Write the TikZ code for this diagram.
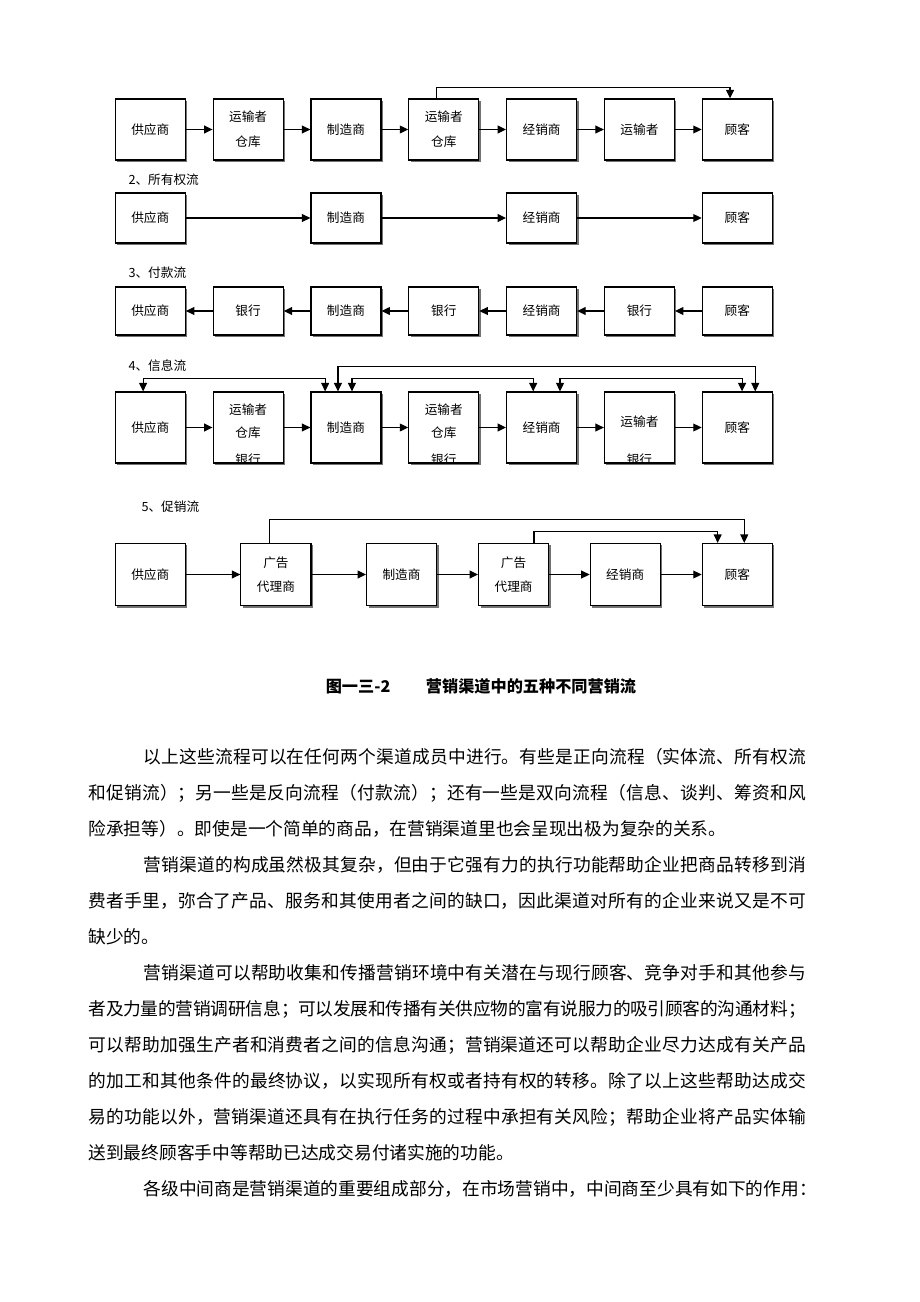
\documentclass[tikz,border=0pt]{standalone}
\usepackage{fontspec}
\newfontfamily\cjk{Noto Sans CJK SC}
\usetikzlibrary{arrows.meta,shadows}
\XeTeXlinebreaklocale "zh"
\XeTeXlinebreakskip=0pt plus 1pt minus 0.3pt
\setlength{\parskip}{0pt}
\tolerance=10000

\begin{document}
\begin{tikzpicture}[x=0.025cm,y=-0.025cm,->,>={Triangle[length=6pt,width=5.6pt]},
                    line width=0.8pt,node distance=2.445cm]
  \tikzstyle{firm}=[rectangle,draw=black,fill=white,minimum width=1.75cm,inner sep=1pt,
                    align=center,font=\cjk\fontsize{9pt}{17.5pt}\selectfont,
                    drop shadow={shadow xshift=0.05cm,shadow yshift=-0.05cm,fill=black!55,opacity=1}]
  \tikzstyle{flowname}=[anchor=west,inner sep=0pt,font=\cjk\fontsize{9pt}{11pt}\selectfont]
  \tikzstyle{inbox}=[inner sep=0pt,font=\cjk\fontsize{9pt}{11pt}\selectfont]

  \useasboundingbox (0,0) rectangle (920,1302);

  % 1
  \begin{scope}[firm/.append style={minimum height=1.525cm}]
  \node[firm] (s1) at (150.3,129.5)     {供应商};
  \node[firm] (w1a)  [right of=s1]      {运输者\\仓库};
  \node[firm] (m1)   [right of=w1a]     {制造商};
  \node[firm] (w1b)  [right of=m1]      {运输者\\仓库};
  \node[firm] (d1)   [right of=w1b]     {经销商};
  \node[firm] (t1)   [right of=d1]      {运输者};
  \node[firm] (c1)   [right of=t1]      {顾客};
  \end{scope}
  \path (s1) edge (w1a) (w1a) edge (m1) (m1) edge (w1b) (w1b) edge (d1)
        (d1) edge (t1) (t1) edge (c1);
  \draw ([xshift=-0.19cm]w1b.north) -- ++(0,-11) -| ([xshift=-0.18cm]c1.north);

  % 2
  \node[flowname] (n2) at (128,180) {2、所有权流};
  \begin{scope}[firm/.append style={minimum height=1.25cm},node distance=4.89cm]
  \node[firm] (s2) at (150.3,218)       {供应商};
  \node[firm] (m2)   [right of=s2]      {制造商};
  \node[firm] (d2)   [right of=m2]      {经销商};
  \node[firm] (c2)   [right of=d2]      {顾客};
  \end{scope}
  \path (s2) edge (m2) (m2) edge (d2) (d2) edge (c2);

  % 3
  \node[flowname] (n3) at (128,273) {3、付款流};
  \begin{scope}[firm/.append style={minimum height=1.2cm}]
  \node[firm] (s3) at (150.3,311)       {供应商};
  \node[firm] (k3a)  [right of=s3]      {银行};
  \node[firm] (m3)   [right of=k3a]     {制造商};
  \node[firm] (k3b)  [right of=m3]      {银行};
  \node[firm] (d3)   [right of=k3b]     {经销商};
  \node[firm] (k3c)  [right of=d3]      {银行};
  \node[firm] (c3)   [right of=k3c]     {顾客};
  \end{scope}
  \path (c3) edge (k3c) (k3c) edge (d3) (d3) edge (k3b) (k3b) edge (m3)
        (m3) edge (k3a) (k3a) edge (s3);

  % 4
  \node[flowname] (n4) at (128,366) {4、信息流};
  \begin{scope}[firm/.append style={minimum height=1.775cm}]
  \node[firm] (s4) at (150.3,427.5)     {供应商};
  \node[firm] (w4a)  [right of=s4]      {};
  \node[firm] (m4)   [right of=w4a]     {制造商};
  \node[firm] (w4b)  [right of=m4]      {};
  \node[firm] (d4)   [right of=w4b]     {经销商};
  \node[firm] (t4)   [right of=d4]      {};
  \node[firm] (c4)   [right of=t4]      {顾客};
  \end{scope}
  \foreach \w in {w4a,w4b}{
    \begin{scope}
      \clip (\w.south west) rectangle (\w.north east);
      \node[inbox] (\w-1) at ([yshift=0.4375cm]\w)  {运输者};
      \node[inbox] (\w-2) at ([yshift=-0.1375cm]\w) {仓库};
      \node[inbox] (\w-3) at ([yshift=-0.8cm]\w)    {银行};
    \end{scope}
  }
  \begin{scope}
    \clip (t4.south west) rectangle (t4.north east);
    \node[inbox] (t4-1) at ([yshift=0.1375cm]t4) {运输者};
    \node[inbox] (t4-3) at ([yshift=-0.8cm]t4)   {银行};
  \end{scope}
  \path (s4) edge (w4a) (w4a) edge (m4) (m4) edge (w4b) (w4b) edge (d4)
        (d4) edge (t4) (t4) edge (c4);
  \draw[<->] ([xshift=-0.18cm]s4.north) -- ++(0,-13) -| ([xshift=-0.52cm]m4.north);
  \draw[<->] ([xshift=-0.2cm]m4.north)  -- ++(0,-25) -| ([xshift=0.45cm]c4.north);
  \draw[<->] ([xshift=0.15cm]m4.north)  -- ++(0,-13) -| ([xshift=-0.21cm]d4.north);
  \draw[<->] ([xshift=0.46cm]d4.north)  -- ++(0,-13) -| ([xshift=0.12cm]c4.north);

  % 5
  \node[flowname] (n5) at (141,507) {5、促销流};
  \begin{scope}[firm/.append style={minimum height=1.55cm}]
  \node[firm] (s5) at (150.3,574.5)                     {供应商};
  \node[firm] (a5)  [right of=s5,node distance=3.14cm]  {广告\\代理商};
  \node[firm] (m5)  [right of=a5,node distance=3.14cm]  {制造商};
  \node[firm] (b5)  [right of=m5,node distance=2.8cm]   {广告\\代理商};
  \node[firm] (d5)  [right of=b5,node distance=2.79cm]  {经销商};
  \node[firm] (c5)  [right of=d5,node distance=2.8cm]   {顾客};
  \end{scope}
  \path (s5) edge (a5) (a5) edge (m5) (m5) edge (b5) (b5) edge (d5) (d5) edge (c5);
  \draw ([xshift=-0.15cm]a5.north) -- ++(0,-23) -| ([xshift=0.175cm]c5.north);
  \draw ([xshift=0.51cm]b5.north)  -- ++(0,-11.5) -| ([xshift=-0.49cm]c5.north);

  \node (fig) at (481,686) [font=\cjk\bfseries\fontsize{11.5pt}{14pt}\selectfont]
        {图一三-2\hspace{2.2em}营销渠道中的五种不同营销流};

  \node (body) at (88,748) [anchor=north west,inner sep=0pt,text width=17.925cm,align=justify,
        font=\cjk\fontsize{12.6pt}{25.6pt}\selectfont] {%
\hspace*{1.375cm}以上这些流程可以在任何两个渠道成员中进行。有些是正向流程（实体流、所有权流\linebreak
和促销流）；另一些是反向流程（付款流）；还有一些是双向流程（信息、谈判、筹资和风\linebreak
险承担等）。即使是一个简单的商品，在营销渠道里也会呈现出极为复杂的关系。\par
\hspace*{1.375cm}营销渠道的构成虽然极其复杂，但由于它强有力的执行功能帮助企业把商品转移到消\linebreak
费者手里，弥合了产品、服务和其使用者之间的缺口，因此渠道对所有的企业来说又是不可\linebreak
缺少的。\par
\hspace*{1.375cm}营销渠道可以帮助收集和传播营销环境中有关潜在与现行顾客、竞争对手和其他参与\linebreak
者及力量的营销调研信息；可以发展和传播有关供应物的富有说服力的吸引顾客的沟通材料；\linebreak
可以帮助加强生产者和消费者之间的信息沟通；营销渠道还可以帮助企业尽力达成有关产品\linebreak
的加工和其他条件的最终协议，以实现所有权或者持有权的转移。除了以上这些帮助达成交\linebreak
易的功能以外，营销渠道还具有在执行任务的过程中承担有关风险；帮助企业将产品实体输\linebreak
送到最终顾客手中等帮助已达成交易付诸实施的功能。\par
\mbox{\hspace*{1.375cm}各级中间商是营销渠道的重要组成部分，在市场营销中，中间商至少具有如下的作用：}};

\end{tikzpicture}
\end{document}
